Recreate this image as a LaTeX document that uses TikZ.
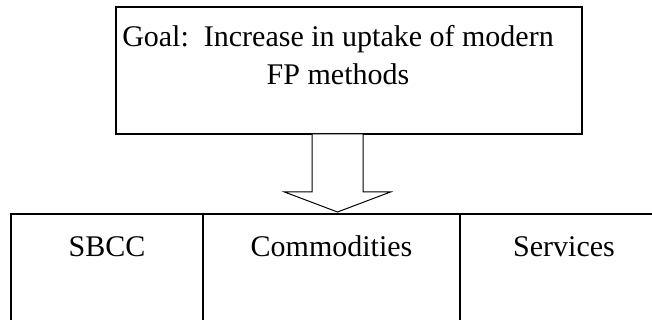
\documentclass[tikz,border=0pt]{standalone}
\usepackage{fontspec}
\setmainfont{Liberation Serif}
\usetikzlibrary{positioning}

\tikzset{
  goalbox/.style={draw, line width=1.5pt, rectangle, inner sep=0pt, outer sep=0pt,
    minimum width=466pt, minimum height=127pt},
  goaltext/.style={align=center, inner sep=0pt, font=\fontsize{30}{38}\selectfont},
  partbox/.style={draw, line width=1.6pt, rectangle, inner sep=0pt, outer sep=0pt,
    minimum height=155pt, text height=42pt, text depth=113pt,
    font=\fontsize{30}{36}\selectfont},
  blockarrow/.style={draw, line width=1pt, fill=white, line join=miter}
}

\begin{document}
\begin{tikzpicture}[x=1pt,y=-1pt]
      % Fix the page size and cut what runs over it
      \useasboundingbox (0,0) rectangle (652,320);
      \clip (0,0) rectangle (652,320);

      % Define the arrow sizes
      \def\ArrowX{337.5}
      \def\ShaftHalf{25.5}
      \def\HeadHalf{53}
      \def\HeadLength{20}

      % Draw the goal box
      \node[goalbox] (goal) at (349,70.5) {};
      \node[goaltext, anchor=base] (goallabel) at (338,85) {Goal:\ \ Increase in uptake of modern\\FP methods};

      % Draw the three boxes below
      \node[partbox, minimum width=192pt, anchor=north west] (sbcc) at (11,214) {SBCC};
      \node[partbox, minimum width=257pt, line width=2pt, right=0pt of sbcc] (commod) {Commodities};
      \node[partbox, minimum width=208pt, right=0pt of commod] (services) {Services};

      % Define the arrow ends
      \coordinate (ArrowX) at (\ArrowX,0);
      \coordinate (ArrowTop) at (ArrowX |- goal.south);
      \coordinate (ArrowTip) at ([yshift=2pt]ArrowX |- commod.north);

      % Draw the block arrow from goal to commodities
      \draw[blockarrow] ([xshift=-\ShaftHalf pt]ArrowTop)
        -- ([xshift=-\ShaftHalf pt,yshift=\HeadLength pt]ArrowTip)
        -- ([xshift=-\HeadHalf pt,yshift=\HeadLength pt]ArrowTip)
        -- (ArrowTip)
        -- ([xshift=\HeadHalf pt,yshift=\HeadLength pt]ArrowTip)
        -- ([xshift=\ShaftHalf pt,yshift=\HeadLength pt]ArrowTip)
        -- ([xshift=\ShaftHalf pt]ArrowTop) -- cycle;
    \end{tikzpicture}
\end{document}
